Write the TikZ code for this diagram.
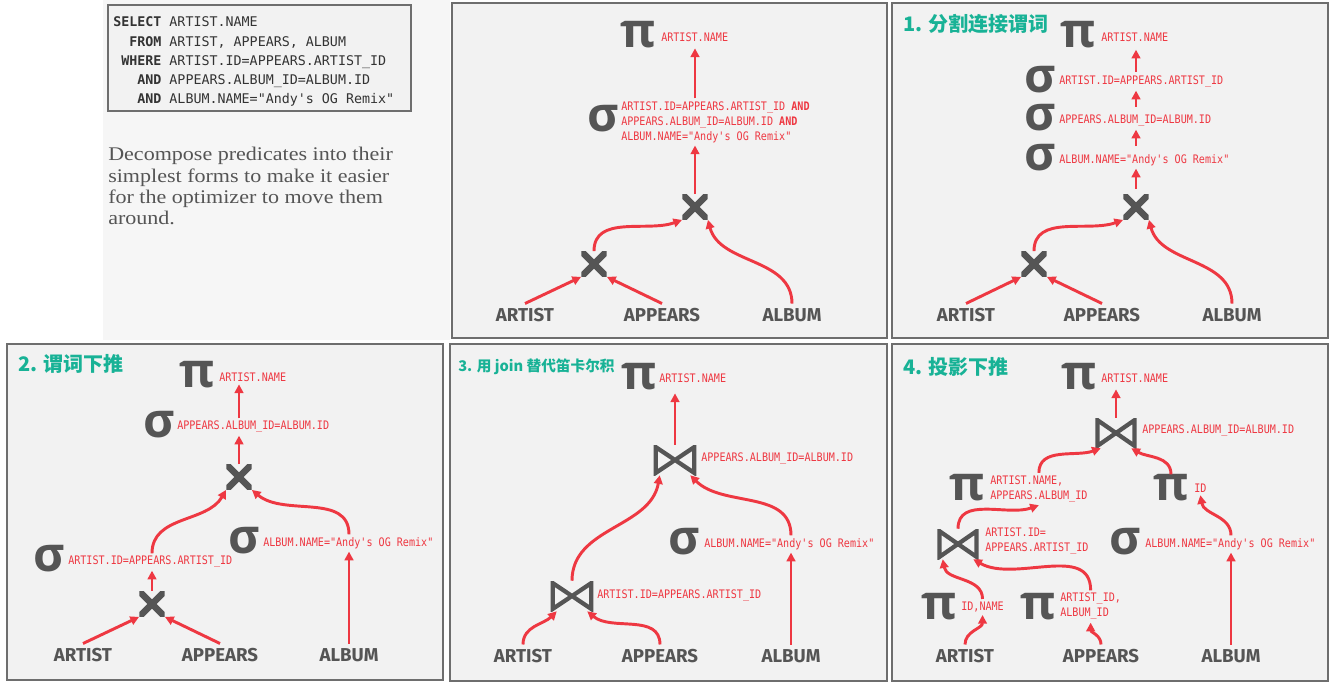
\documentclass[tikz,border=0pt]{standalone}
\usepackage{fontspec}
\usepackage{tikz}
\usetikzlibrary{arrows.meta,calc,positioning}
\usepackage{xcolor}
\setmonofont{DejaVu Sans Mono}
\newfontfamily\tblfamily{Fira Sans}
\newfontfamily\opfamily{Open Sans}
\newfontfamily\cjkfamily{Noto Sans CJK SC}
\newfontfamily\parafamily{Liberation Serif}[FakeStretch=1.14]
\definecolor{opgray}{RGB}{85,85,85}
\definecolor{flowred}{RGB}{238,56,66}
\definecolor{titlegreen}{RGB}{24,178,150}
\definecolor{panelbg}{RGB}{242,242,242}
\definecolor{panelline}{RGB}{110,110,110}
\definecolor{sidebg}{RGB}{246,246,246}
\newcommand{\lblfont}{\ttfamily\fontsize{8.8pt}{11.25pt}\selectfont\addfontfeatures{FakeStretch=0.86}}
\renewcommand{\arraystretch}{1.2}

\begin{document}
\begin{tikzpicture}[x=0.75pt,y=0.75pt,
  panel/.style={draw=panelline, line width=1.5pt, fill=panelbg},
  op/.style={font=\opfamily\bfseries\fontsize{36pt}{36pt}\selectfont, text=opgray, inner sep=0pt},
  cross/.style={minimum size=19pt, inner sep=0pt,
    path picture={\draw[opgray, line width=5pt]
      (path picture bounding box.north west) -- (path picture bounding box.south east)
      (path picture bounding box.north east) -- (path picture bounding box.south west);}},
  bowtie/.style={minimum width=32pt, minimum height=22.5pt, inner sep=0pt,
    path picture={\draw[opgray, line width=3.2pt]
      ([shift={(1.6pt,-1.6pt)}]path picture bounding box.north west)
      -- ([shift={(-1.6pt,1.6pt)}]path picture bounding box.south east)
      -- ([shift={(-1.6pt,-1.6pt)}]path picture bounding box.north east)
      -- ([shift={(1.6pt,1.6pt)}]path picture bounding box.south west) -- cycle;}},
  lbl/.style={font=\lblfont, text=flowred, anchor=west,
    inner xsep=0pt, inner ysep=2pt, align=left},
  tbl/.style={font=\tblfamily\bfseries\fontsize{14pt}{14pt}\selectfont, text=opgray},
  ttl/.style={font=\cjkfamily\bfseries\fontsize{15pt}{18pt}\selectfont, text=titlegreen,
    anchor=west, inner sep=0pt},
  flow/.style={draw=flowred, line width=2.2pt, -{Triangle[length=6.5pt,width=6.5pt]}},
  sqlbox/.style={draw=panelline, line width=1.2pt, fill=panelbg, minimum width=227pt, minimum height=79.5pt},
  para/.style={font=\parafamily\fontsize{14.5pt}{16pt}\selectfont, text=opgray, align=left, inner sep=0pt}]
\useasboundingbox (0,0) rectangle (1331,-684);
\fill[white] (0,0) rectangle (1331,-684);
\fill[sidebg] (103,0) rectangle (450,-340);

% query and note
\node[sqlbox] (sqlframe) at (259.5,-58) {};
\node[anchor=west, inner sep=0pt, font=\ttfamily\fontsize{10pt}{12pt}\selectfont, text=black!80] (sql) at (113,-61.5)
  {\begin{tabular}{@{}r@{\ }l@{}}
   \textbf{SELECT} & ARTIST.NAME\\
   \textbf{FROM} & ARTIST, APPEARS, ALBUM\\
   \textbf{WHERE} & ARTIST.ID=APPEARS.ARTIST\_ID\\
   \textbf{AND} & APPEARS.ALBUM\_ID=ALBUM.ID\\
   \textbf{AND} & ALBUM.NAME="Andy's OG Remix"
   \end{tabular}};
\node[para, anchor=north west] (note) at (108,-147)
  {Decompose predicates into their\\simplest forms to make it easier\\for the optimizer to move them\\around.};

% panels
\draw[panel] (452,-3) rectangle (887,-338);
\draw[panel] (892,-3) rectangle (1328,-338);
\draw[panel] (7,-344) rectangle (443,-680);
\draw[panel] (450,-344) rectangle (887,-681);
\draw[panel] (892,-344) rectangle (1328,-681);

% original plan
\node[op] (aPi) at (638,-35) {π};
\node[lbl] (aPiL) at (661,-37) {ARTIST.NAME};
\node[op] (aSig) at (603,-119) {σ};
\node[lbl] (aSigL) at (621,-122) {ARTIST.ID=APPEARS.ARTIST\_ID \textbf{AND}\\APPEARS.ALBUM\_ID=ALBUM.ID \textbf{AND}\\ALBUM.NAME="Andy's OG Remix"};
\node[cross] (aX2) at (695,-207) {};
\node[cross] (aX1) at (594,-264) {};
\node[tbl] (aArt) at (525,-315) {ARTIST};
\node[tbl] (aApp) at (662,-315) {APPEARS};
\node[tbl] (aAlb) at (792,-315) {ALBUM};
\draw[flow] (aArt.north) -- (aX1.south west);
\draw[flow] (aApp.north) -- (aX1.south east);
\draw[flow] (aX1.north) to[out=90,in=200] (aX2.south west);
\draw[flow] (aAlb.north) to[out=90,in=-75] (aX2.south east);
\draw[flow] (aX2.north) -- (aX2.north |- aSigL.south);
\draw[flow, shorten >=3pt] (aSigL.north -| aX2.north) -- (aPiL.south -| aX2.north);

% 1
\node[ttl] (bT) at (903,-24) {1. 分割连接谓词};
\node[op] (bPi) at (1078,-35) {π};
\node[lbl] (bPiL) at (1101,-37) {ARTIST.NAME};
\node[op] (bS1) at (1040,-80) {σ};
\node[lbl] (bS1L) at (1059,-82) {ARTIST.ID=APPEARS.ARTIST\_ID};
\node[op] (bS2) at (1040,-118) {σ};
\node[lbl] (bS2L) at (1059,-121) {APPEARS.ALBUM\_ID=ALBUM.ID};
\node[op] (bS3) at (1040,-158) {σ};
\node[lbl] (bS3L) at (1059,-160) {ALBUM.NAME="Andy's OG Remix"};
\node[cross] (bX2) at (1136,-207) {};
\node[cross] (bX1) at (1034,-264) {};
\node[tbl] (bArt) at (966,-315) {ARTIST};
\node[tbl] (bApp) at (1102,-315) {APPEARS};
\node[tbl] (bAlb) at (1232,-315) {ALBUM};
\draw[flow] (bArt.north) -- (bX1.south west);
\draw[flow] (bApp.north) -- (bX1.south east);
\draw[flow] (bX1.north) to[out=90,in=200] (bX2.south west);
\draw[flow] (bAlb.north) to[out=90,in=-75] (bX2.south east);
\draw[flow, shorten <=4pt] (bX2.north) -- (bX2.north |- bS3L.south);
\draw[flow, shorten <=4pt] (bS3L.north -| bX2.north) -- (bS2L.south -| bX2.north);
\draw[flow, shorten <=4pt] (bS2L.north -| bX2.north) -- (bS1L.south -| bX2.north);
\draw[flow, shorten <=1pt, shorten >=4pt] (bS1L.north -| bX2.north) -- (bPiL.south -| bX2.north);

% 2
\node[ttl] (cT) at (18,-364) {2. 谓词下推};
\node[op] (cPi) at (197,-375) {π};
\node[lbl] (cPiL) at (219,-377) {ARTIST.NAME};
\node[op] (cSig) at (159,-425) {σ};
\node[lbl] (cSigL) at (177,-427) {APPEARS.ALBUM\_ID=ALBUM.ID};
\node[cross] (cX2) at (239,-477) {};
\node[op] (cS1) at (49,-559) {σ};
\node[lbl] (cS1L) at (68,-562) {ARTIST.ID=APPEARS.ARTIST\_ID};
\node[op] (cS2) at (244,-541) {σ};
\node[lbl] (cS2L) at (263,-543) {ALBUM.NAME="Andy's OG Remix"};
\node[cross] (cX1) at (152,-604) {};
\node[tbl] (cArt) at (83,-655) {ARTIST};
\node[tbl] (cApp) at (220,-655) {APPEARS};
\node[tbl] (cAlb) at (349,-655) {ALBUM};
\draw[flow] (cArt.north) -- (cX1.south west);
\draw[flow] (cApp.north) -- (cX1.south east);
\draw[flow] (cX1.north) -- (cX1.north |- cS1L.south);
\draw[flow] (cS1L.north -| cX1.north) to[out=90,in=-120] (cX2.south west);
\draw[flow] (cAlb.north) -- (cAlb.north |- cS2L.south);
\draw[flow] (cS2L.north -| cAlb.north) to[out=90,in=-40] (cX2.south east);
\draw[flow] (cX2.north) -- (cX2.north |- cSigL.south);
\draw[flow] (cSigL.north -| cX2.north) -- (cPiL.south -| cX2.north);

% 3
\node[ttl, font=\cjkfamily\bfseries\fontsize{11pt}{14pt}\selectfont] (dT) at (458,-367) {3. 用 join 替代笛卡尔积};
\node[op] (dPi) at (639,-377) {π};
\node[lbl] (dPiL) at (659,-378) {ARTIST.NAME};
\node[bowtie] (dB2) at (675,-460) {};
\node[lbl] (dB2L) at (701,-459) {APPEARS.ALBUM\_ID=ALBUM.ID};
\node[op] (dSig) at (684,-542) {σ};
\node[lbl] (dSigL) at (704,-544) {ALBUM.NAME="Andy's OG Remix"};
\node[bowtie] (dB1) at (572,-596) {};
\node[lbl] (dB1L) at (597,-596) {ARTIST.ID=APPEARS.ARTIST\_ID};
\node[tbl] (dArt) at (523,-656) {ARTIST};
\node[tbl] (dApp) at (660,-656) {APPEARS};
\node[tbl] (dAlb) at (791,-656) {ALBUM};
\draw[flow] (dArt.north) to[out=90,in=-135] (dB1.-135);
\draw[flow] (dApp.north) to[out=90,in=-40] (dB1.-45);
\draw[flow] (dB1.north) to[out=90,in=-100] (dB2.-135);
\draw[flow] (dAlb.north) -- (dAlb.north |- dSigL.south);
\draw[flow] (dSigL.north -| dAlb.north) to[out=90,in=-45] (dB2.-45);
\draw[flow, shorten >=6pt] (dB2.north) -- (dPiL.south -| dB2.north);

% 4
\node[ttl] (eT) at (903,-367) {4. 投影下推};
\node[op] (ePi) at (1079,-377) {π};
\node[lbl] (ePiL) at (1101,-378) {ARTIST.NAME};
\node[bowtie, minimum width=31pt] (eB2) at (1116,-433) {};
\node[lbl] (eB2L) at (1142,-431) {APPEARS.ALBUM\_ID=ALBUM.ID};
\node[op] (eP2) at (967,-488) {π};
\node[lbl] (eP2L) at (990,-489) {ARTIST.NAME,\\APPEARS.ALBUM\_ID};
\node[op] (eP3) at (1171,-488) {π};
\node[lbl] (eP3L) at (1194,-488) {ID};
\node[bowtie, minimum width=31pt] (eB1) at (958,-544) {};
\node[lbl] (eB1L) at (985,-541.5) {ARTIST.ID=\\APPEARS.ARTIST\_ID};
\node[op] (eSig) at (1125,-542) {σ};
\node[lbl] (eSigL) at (1145,-544) {ALBUM.NAME="Andy's OG Remix"};
\node[op] (eP4) at (939,-607) {π};
\node[lbl] (eP4L) at (961,-607) {ID,NAME};
\node[op] (eP5) at (1038,-607) {π};
\node[lbl] (eP5L) at (1060,-606.5) {ARTIST\_ID,\\ALBUM\_ID};
\node[tbl] (eArt) at (965,-656) {ARTIST};
\node[tbl] (eApp) at (1101,-656) {APPEARS};
\node[tbl] (eAlb) at (1231,-656) {ALBUM};
\draw[flow] (eArt.north) to[out=90,in=-90] (eP4L.south);
\draw[flow] (eApp.north) to[out=90,in=-90] (eP5L.south);
\draw[flow] (eP4L.north) to[out=90,in=-80] (eB1.-135);
\draw[flow] (eP5L.north) to[out=90,in=-30] (eB1.-45);
\draw[flow] (eB1.north) to[out=90,in=200] (eP2L.south);
\draw[flow] (eAlb.north) -- (eAlb.north |- eSigL.south);
\draw[flow] (eSigL.north -| eAlb.north) to[out=90,in=-80] (eP3L.south);
\draw[flow] (eP2L.north) to[out=90,in=200] (eB2.-135);
\draw[flow] (eP3.north) to[out=90,in=-30] (eB2.-45);
\draw[flow, shorten >=3pt] (eB2.north) -- (ePiL.south -| eB2.north);
\end{tikzpicture}
\end{document}
